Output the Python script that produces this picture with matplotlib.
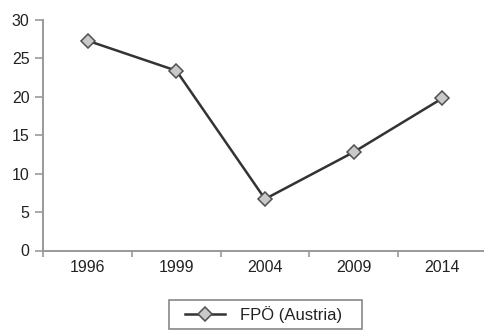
import matplotlib.pyplot as plt
from matplotlib.patches import Rectangle

# FPÖ vote share by election year
years = ["1996", "1999", "2004", "2009", "2014"]
fpo_share = [27.3, 23.4, 6.7, 12.8, 19.8]

plt.rcParams['font.family'] = ['Liberation Sans', 'DejaVu Sans']

W, H = 485, 330
fig = plt.figure(figsize=(W / 100, H / 100), dpi=100)
ax = fig.add_axes([43.5 / W, 79.5 / H, 443 / W, 230.5 / H])

x = list(range(len(years)))
ax.plot(x, fpo_share, color="#333333", lw=1.8, marker="D", ms=7.2,
        mfc="#c9c9c9", mec="#505050", mew=1.1, label="FPÖ (Austria)",
        clip_on=False, zorder=3)

ax.set_xlim(-0.5, len(years) - 0.5)
ax.set_ylim(0, 30)
ax.set_yticks(range(0, 31, 5))

# category labels between boundary ticks
ax.set_xticks([i + 0.5 for i in range(-1, len(years))])
ax.set_xticklabels([])
ax.set_xticks(x, minor=True)
ax.set_xticklabels(years, minor=True)
ax.tick_params(axis="x", which="minor", length=0, pad=7, labelsize=11.5,
               labelcolor="#222222")
ax.tick_params(axis="x", which="major", length=4, width=1.2, color="#999999")
ax.tick_params(axis="y", length=6, width=1.2, color="#999999", pad=4,
               labelsize=11.5, labelcolor="#222222")

for side in ("top", "right"):
    ax.spines[side].set_visible(False)
for side in ("left", "bottom"):
    ax.spines[side].set_color("#999999")
    ax.spines[side].set_linewidth(1.4)

# legend box drawn separately so it can be wider than the entry
fig.patches.append(Rectangle((169.5 / W, 1.5 / H), 192 / W, 28.5 / H,
                             transform=fig.transFigure, fill=False,
                             edgecolor="#888888", lw=1.2))
leg = fig.legend(loc="center", bbox_to_anchor=(264 / W, 15.5 / H),
                 frameon=False, fontsize=12, handlelength=2.4,
                 borderpad=0, handletextpad=0.9, borderaxespad=0)
for t in leg.get_texts():
    t.set_color("#222222")

fig.savefig("out.png", dpi=100)
